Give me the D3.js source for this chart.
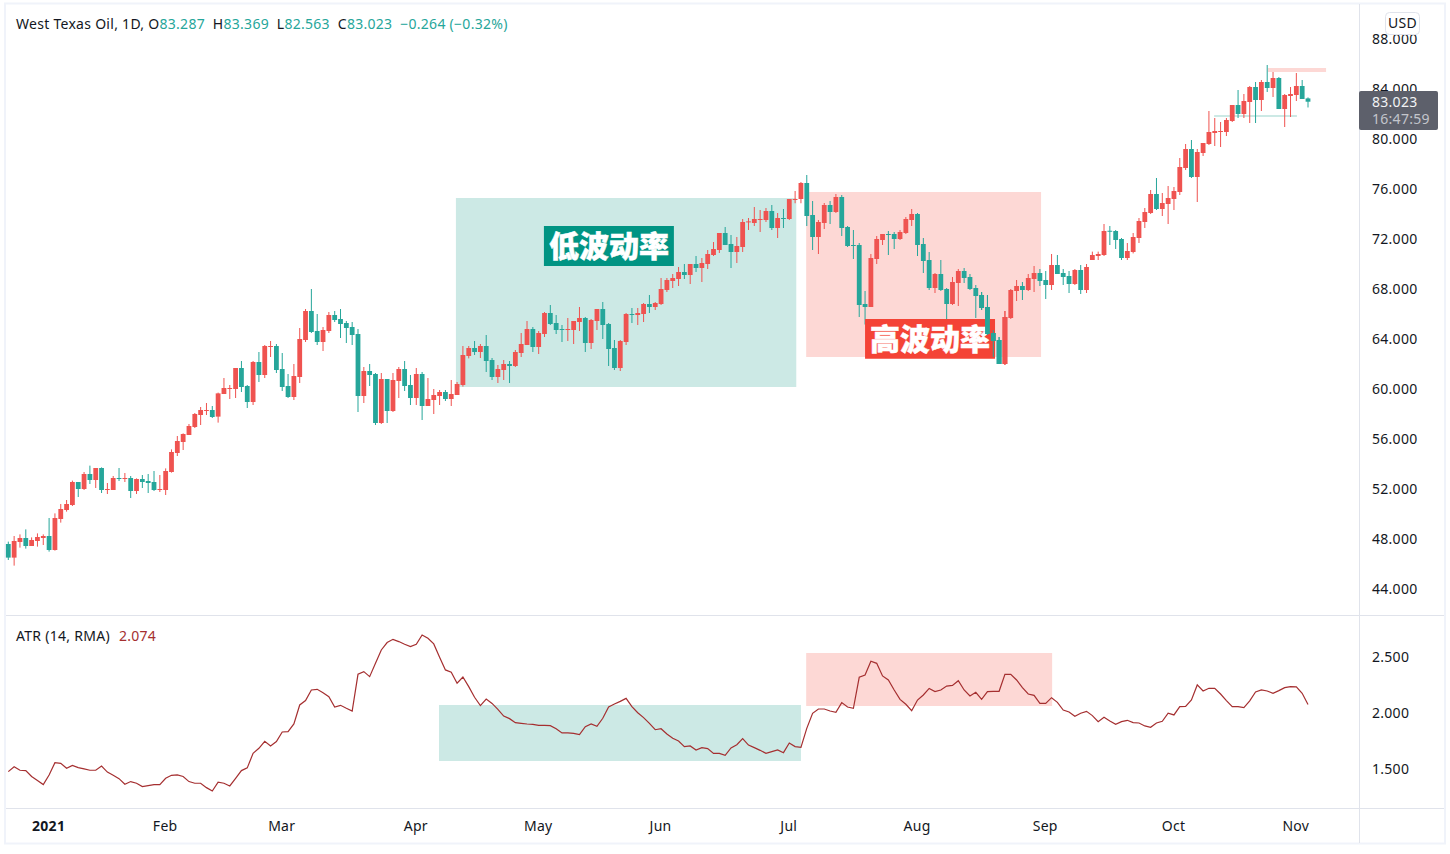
<!doctype html>
<html>
  <head>
    <title>West Texas Oil</title>
    <meta charset="utf-8">
    <style>
      body { margin: 0; background: #fff; }
      svg { display: block; }
      text { font-family: "Noto Sans", sans-serif; font-size: 14px; fill: #131722; letter-spacing: .28px; }
      .tick text { fill: #131722; }
      .cjk { font-family: "Noto Sans CJK SC"; font-weight: 900; font-size: 30px; fill: #fff; stroke: #fff; stroke-width: .5px; letter-spacing: 0; }
    </style>
  </head>
  <script src="https://cdnjs.cloudflare.com/ajax/libs/d3/7.8.5/d3.min.js"></script>
  <body>
    <svg id="target" width="1450" height="854"></svg>
    <script>

    var openPrices = [47.64,46.55,47.8,48.12,47.48,47.88,48.12,48.28,47.16,49.64,
      50.36,50.76,52.6,52.04,53.24,52.76,53.72,51.96,51.96,52.92,
      52.84,52.92,51.88,52.84,52.68,52.6,51.96,51.96,53.4,54.92,
      55.8,56.36,57,57.96,58.28,58.36,57.83,59.64,60.04,60.04,
      61.72,60.28,59,62.2,61.16,63.44,63.48,61.64,60.28,59.4,
      61,63.96,66.28,64.68,63.8,64.68,65.96,65.64,65.32,65,
      64.44,59.48,61.48,61.24,57.32,60.84,58.28,60.68,61.64,60.36,
      59.32,61.24,58.68,59.16,59.48,59.8,59.24,59.56,60.36,62.68,
      63.32,63,63.48,62.36,61,61.56,62.04,61.88,62.92,63.56,
      64.84,63.4,64.44,66.12,65.32,64.84,64.76,64.76,65.4,65.72,
      63.72,65.48,66.44,65.24,63.32,61.72,63.8,66.04,65.96,66.04,
      66.84,66.6,66.84,67.96,68.68,68.84,69.4,69.16,70.04,69.72,
      70.04,70.76,71.16,72.52,71.64,71,71.4,73.37,73.32,73.56,
      73.56,74.28,72.92,73.72,73.64,75.16,75.24,76.52,73.96,72.2,
      73.32,74.76,74.2,75.4,73,71.56,71.56,66.84,66.6,70.44,
      71.96,72.44,72.44,72.04,72.52,73.56,74.04,71.64,70.36,68.12,
      69.24,68.04,66.84,68.52,69.48,69,68.12,67.56,66.6,64.52,
      63.96,62.04,65.72,67.88,68.28,67.96,68.84,69.32,68.76,68.36,
      69.96,69.32,69.08,68.44,69.56,67.96,70.36,70.68,70.76,72.7,
      72.68,72.04,70.52,71,72.12,73.4,74.12,75.64,74.44,74.84,
      75.24,75.8,77.72,79.24,77,78.92,79.64,80.52,80.6,80.6,
      81.48,82.76,82.04,83,84.2,83.16,84.6,84.12,84.92,82.44,
      83.48,83.56,84.28,83.287];

    var closePrices = [46.55,47.88,48.12,47.48,47.96,48.2,48.28,47.16,49.72,50.44,
      50.84,52.6,52.04,53.24,52.76,53.72,51.96,52.04,52.92,52.84,
      52.92,51.88,52.84,52.6,52.52,51.96,52.04,53.48,55,55.88,
      56.44,57.08,58.04,58.36,58.36,57.8,59.69,60.12,60.12,61.72,
      60.2,59,62.2,61.16,63.48,63.48,61.56,60.2,59.4,61.08,
      64.04,66.28,64.6,63.8,64.76,65.96,65.56,65.24,64.92,64.36,
      59.48,61.48,61.16,57.32,60.84,58.28,60.76,61.64,60.28,59.32,
      61.24,58.68,59.24,59.56,59.8,59.24,59.64,60.44,62.76,63.32,
      63,63.48,62.28,61,61.64,62.04,61.88,63,63.64,64.84,
      63.4,64.52,66.12,65.24,64.76,64.76,64.84,65.48,65.72,63.72,
      65.56,66.44,65.16,63.24,61.72,63.88,66.04,65.96,66.12,66.84,
      66.6,66.92,68.04,68.76,68.92,69.4,69.16,70.04,69.72,70.12,
      70.84,71.24,72.52,71.56,71,71.48,73.4,73.45,73.64,73.64,
      74.28,72.92,73.72,73.64,75.24,75.24,76.52,73.88,72.2,73.4,
      74.76,74.2,75.4,72.92,71.48,71.48,66.76,66.6,70.52,72.04,
      72.44,72.36,72.04,72.6,73.64,74.04,71.56,70.28,68.12,69.24,
      67.96,66.84,68.6,69.48,68.92,68.04,67.48,66.52,64.44,63.88,
      62.04,65.8,67.96,68.28,67.96,68.92,69.32,68.68,68.36,69.96,
      69.24,69,68.44,69.56,67.96,69.8,70.76,70.84,72.68,72.62,
      71.96,70.52,71.08,72.2,73.48,74.2,75.64,74.44,74.92,75.32,
      75.88,77.8,79.24,77,79,79.72,80.6,80.68,80.68,81.56,
      82.76,82.04,83.08,84.2,83.16,84.6,84.12,84.92,82.44,83.56,
      83.64,84.28,83.24,83.023];

    var highPrices = [47.83,48.28,48.41,48.81,48.17,48.49,48.41,49.72,50.09,50.84,
      51.16,52.71,52.6,53.4,53.91,53.72,53.77,52.52,53.08,53.72,
      53.32,53.08,52.89,53.16,53.24,53.48,53.16,53.69,55.21,56.28,
      56.49,57.24,58.12,58.6,58.92,58.68,59.75,60.92,60.36,61.72,
      62.28,60.36,62.28,63,63.56,63.88,63.64,62.92,61.24,62.04,
      64.92,66.44,68.04,66.04,65,66.2,66.28,66.44,65.48,65.4,
      64.84,61.8,62.04,61.32,61.32,60.84,61.32,61.8,62.28,61.16,
      61.72,61.4,60.92,60.04,59.96,59.96,60.76,60.6,63.48,63.48,
      63.88,63.64,64.36,62.52,61.96,62.36,62.28,63.16,64.52,65.48,
      65,64.68,66.2,66.76,65.96,65.16,65.72,65.48,66.6,65.8,
      65.64,66.44,67,65.32,63.96,63.96,66.12,66.52,66.52,66.92,
      67.56,67,68.92,68.92,69.24,69.8,70.04,70.04,70.68,70.52,
      71.16,71.8,72.52,73,72.36,72.2,73.64,73.72,74.6,74.36,
      74.52,74.76,74.12,74.44,75.24,75.88,76.6,77.16,75.08,73.56,
      74.92,75.08,75.64,75.56,73.08,72.76,71.72,67.88,70.84,72.28,
      72.44,72.68,72.6,72.76,73.8,74.44,74.12,72.12,71,69.32,
      70.36,68.12,69,69.64,69.72,69.24,68.36,67.8,67.56,64.76,
      64.2,66.28,68.04,68.76,68.6,69.24,69.88,69.64,69.48,70.84,
      70.76,69.64,69.48,69.64,69.96,70.04,71.03,71.03,73.24,73.08,
      72.76,72.12,71.72,72.52,73.72,74.52,75.96,76.92,75.72,76.28,
      76.2,78.52,79.64,79.96,79.24,79.72,82.28,81.72,81.4,81.72,
      82.76,83.96,83.64,84.28,84.6,84.76,85.96,85.4,85,83.64,
      84.2,85.32,84.76,83.369];

    var lowPrices = [46.36,45.91,47.35,47.27,47.48,47.43,47.56,47.03,47.11,49.35,
      50.23,50.68,51.4,51.96,52.44,52.12,51.72,51.64,51.96,52.68,
      52.6,51.32,51.64,52.12,51.72,51.88,51.8,51.56,53.35,54.68,
      55.16,56.36,56.92,57.16,57.96,57.72,57.35,59.64,59.24,59.32,
      59.8,58.52,58.76,60.6,60.92,62.6,61.32,59.88,59.32,59.16,
      60.52,63.8,64.52,63.56,63.08,64.52,65.4,64.12,63.72,63.56,
      58.2,58.92,60.28,57.16,57.24,57.32,58.2,59.32,59.88,58.76,
      58.76,57.56,58.68,58.04,58.76,59.08,58.68,59.56,60.23,62.49,
      62.76,62.52,61.4,60.76,60.52,60.76,60.52,61.8,62.6,63.56,
      63,62.84,64.2,65.16,64.44,63.8,63.88,63.64,64.68,63,
      63.24,64.76,64.04,61.88,61.56,61.48,63.56,65.32,65.16,65.4,
      66.12,66.36,66.76,67.8,68.12,68.28,68.84,68.44,69.4,68.6,
      69.64,70.68,70.92,71.56,69.72,70.12,71,72.76,73.08,72.6,
      73.4,72.76,72.12,72.92,73.56,74.9,74.9,73.08,71.16,70.84,
      72.84,73.24,74.12,72.28,71.4,70.44,65.8,65.2,66.6,70.04,
      71.56,70.76,71.24,71.96,72.44,73.08,70.68,69.32,67.96,67.72,
      67.88,65.56,66.76,66.68,68.52,67.96,65.72,66.36,64.36,62.6,
      62.04,61.96,65.64,67.08,67.16,67.88,67.8,68.28,67.24,67.96,
      69.24,68.36,67.72,68.36,67.64,67.72,70.36,70.36,70.68,71.56,
      71.24,70.36,70.36,70.89,71.72,72.92,74.04,74.36,73.88,73.24,
      74.36,75.56,77.56,76.92,75,78.68,79.56,79.48,79.4,80.28,
      81.4,81.72,81.72,81.32,81.32,82.28,83.8,83.4,82.44,81,
      81.8,83.08,83.24,82.563];

    var atrValues = [1.474,1.518,1.486,1.483,1.43,1.394,1.358,1.444,1.554,1.548,
      1.504,1.53,1.51,1.498,1.486,1.486,1.524,1.47,1.441,1.411,
      1.361,1.385,1.37,1.34,1.349,1.358,1.358,1.414,1.441,1.444,
      1.43,1.385,1.37,1.37,1.331,1.301,1.379,1.37,1.346,1.414,
      1.483,1.507,1.638,1.682,1.745,1.703,1.742,1.828,1.831,1.9,
      2.069,2.108,2.203,2.209,2.179,2.143,2.051,2.066,2.039,2.015,
      2.343,2.367,2.322,2.441,2.56,2.626,2.655,2.635,2.611,2.59,
      2.611,2.694,2.664,2.614,2.495,2.382,2.361,2.263,2.319,2.233,
      2.138,2.063,2.122,2.083,2.03,1.97,1.947,1.911,1.905,1.899,
      1.896,1.887,1.887,1.884,1.857,1.819,1.819,1.816,1.804,1.875,
      1.899,1.878,1.95,2.051,2.078,2.101,2.128,2.054,2,1.956,
      1.905,1.848,1.857,1.81,1.771,1.747,1.697,1.703,1.667,1.688,
      1.679,1.637,1.637,1.619,1.685,1.714,1.768,1.711,1.688,1.664,
      1.637,1.652,1.667,1.643,1.729,1.697,1.691,1.86,1.994,2.033,
      2.033,2.015,2.003,2.09,2.051,2.039,2.316,2.336,2.459,2.441,
      2.328,2.292,2.203,2.119,2.075,2.018,2.113,2.158,2.217,2.188,
      2.203,2.238,2.244,2.286,2.203,2.149,2.182,2.119,2.188,2.191,
      2.191,2.342,2.342,2.292,2.223,2.167,2.155,2.083,2.083,2.134,
      2.092,2.024,2.006,1.968,1.995,2.012,1.974,1.92,1.959,1.926,
      1.896,1.92,1.932,1.911,1.908,1.882,1.87,1.908,1.923,1.995,
      1.98,2.054,2.057,2.114,2.248,2.194,2.218,2.218,2.167,2.108,
      2.054,2.054,2.045,2.105,2.185,2.203,2.194,2.173,2.197,2.224,
      2.233,2.23,2.173,2.074];

    var priceTicks = [44,48,52,56,60,64,68,72,76,80,84,88];
    var atrTicks = [1.5,2,2.5];
    var monthBars = [7,27,47,70,91,112,134,156,178,200,221];
    var monthLabels = ["2021","Feb","Mar","Apr","May","Jun","Jul","Aug","Sep","Oct","Nov"];

    // annotation boxes as [first bar, last bar, top value, bottom value]
    var lowVolBox = [76.8,135.2,75.32,60.2];
    var highVolBox = [136.9,177.2,75.8,62.6];
    var highStripe = [216.1,226.1,85.72,85.4];
    var lowStripe = [206.9,221.1,81.96,81.8];
    var lowVolTag = [91.9,114.2,73.08,69.88];
    var highVolTag = [147,169.3,65.64,62.46];
    var lowAtrBox = [73.9,136,2.069,1.569];
    var highAtrBox = [136.9,179.1,2.533,2.06];

    var UP = "#ef5350", DOWN = "#26a69a", GRID = "#e0e3eb", ATR = "#a52f30";
    var LOW_FILL = "#cce9e5", HIGH_FILL = "#fdd8d5";

    var svg = d3.select("svg");
    var x = d3.scaleLinear().domain([0,223]).range([8.3,1308]);
    var y = d3.scaleLinear().domain([44,88]).range([589.5,39.5]);
    var yAtr = d3.scaleLinear().domain([1.5,2.5]).range([768.7,656.7]);

    var bars = d3.range(openPrices.length).map(function(i){
      return { i:i, o:openPrices[i], h:highPrices[i], l:lowPrices[i], c:closePrices[i] };
    });

    function box(rect, yScale, color, parent) {
      return (parent || svg).append("rect")
        .attr("x", x(rect[0]))
        .attr("y", yScale(rect[2]))
        .attr("width", x(rect[1]) - x(rect[0]))
        .attr("height", yScale(rect[3]) - yScale(rect[2]))
        .attr("fill", color);
    }

    function drawCandles(data) {
      var g = svg.append("g").selectAll("g").data(data).enter().append("g")
        .attr("fill", function(d){ return d.c >= d.o ? UP : DOWN; });
      g.append("rect")
        .attr("x", function(d){ return x(d.i) - 0.5; })
        .attr("y", function(d){ return y(d.h); })
        .attr("width", 1)
        .attr("height", function(d){ return y(d.l) - y(d.h); });
      g.append("rect")
        .attr("x", function(d){ return x(d.i) - 2.4; })
        .attr("y", function(d){ return y(Math.max(d.o,d.c)); })
        .attr("width", 4.8)
        .attr("height", function(d){ return Math.max(1, Math.abs(y(d.o) - y(d.c))); });
    }

    function tag(rect, color, label) {
      box(rect, y, color);
      svg.append("text").attr("class","cjk")
        .attr("x", x((rect[0]+rect[1])/2))
        .attr("y", y((rect[2]+rect[3])/2))
        .attr("dy", "0.36em")
        .attr("text-anchor","middle")
        .text(label);
    }

    // frame
    svg.append("rect").attr("x",5).attr("y",3.5).attr("width",1440).attr("height",840)
      .attr("fill","#fff").attr("stroke","#f0f3fa").attr("stroke-width",2);
    svg.append("line").attr("x1",6).attr("x2",1444).attr("y1",615.5).attr("y2",615.5).attr("stroke",GRID);
    svg.append("line").attr("x1",6).attr("x2",1444).attr("y1",808.5).attr("y2",808.5).attr("stroke",GRID);
    svg.append("line").attr("x1",1359.5).attr("x2",1359.5).attr("y1",4).attr("y2",843).attr("stroke",GRID);

    // boxes under the candles
    box(lowVolBox, y, LOW_FILL);
    box(highVolBox, y, HIGH_FILL);
    box(highStripe, y, HIGH_FILL);
    box(lowStripe, y, LOW_FILL);
    box(lowAtrBox, yAtr, LOW_FILL);
    box(highAtrBox, yAtr, HIGH_FILL);

    drawCandles(bars);
    tag(lowVolTag, "#009483", "低波动率");
    tag(highVolTag, "#f44336", "高波动率");
    // the last falling bars sit on top of the red tag
    drawCandles(bars.filter(function(d){ return d.i >= 167 && d.i <= 171; }));

    var atrLine = d3.line()
      .x(function(d,i){ return x(i); })
      .y(function(d){ return yAtr(d); });
    svg.append("path").datum(atrValues)
      .attr("d", atrLine)
      .attr("fill","none")
      .attr("stroke",ATR)
      .attr("stroke-width",1.2);

    // axes
    var priceAxis = d3.axisRight(y).tickValues(priceTicks).tickFormat(d3.format(".3f")).tickSize(0).tickPadding(0);
    var pa = svg.append("g").attr("transform","translate(1372,0)").call(priceAxis);
    var atrAxis = d3.axisRight(yAtr).tickValues(atrTicks).tickFormat(d3.format(".3f")).tickSize(0).tickPadding(0);
    var aa = svg.append("g").attr("transform","translate(1372,0)").call(atrAxis);
    var timeAxis = d3.axisBottom(x).tickValues(monthBars)
      .tickFormat(function(d,i){ return monthLabels[i]; }).tickSize(0).tickPadding(0);
    var ta = svg.append("g").attr("transform","translate(-1,821)").call(timeAxis);
    [pa,aa,ta].forEach(function(a){
      a.select(".domain").remove();
      a.attr("font-family",null).attr("font-size",null);
    });
    ta.selectAll("text").filter(function(d,i){ return i == 0; }).style("font-weight","bold");

    // last price label
    svg.append("rect").attr("x",1359).attr("y",91).attr("width",79).attr("height",39).attr("rx",2).attr("fill","#5d606b");
    svg.append("text").attr("x",1372).attr("y",107).style("fill","#f2f3f5").text(d3.format(".3f")(closePrices[223]));
    svg.append("text").attr("x",1372).attr("y",124).style("fill","#c3c5cb").text("16:47:59");

    // currency badge
    svg.append("rect").attr("x",1385.5).attr("y",12.5).attr("width",34).attr("height",22).attr("rx",4)
      .attr("fill","#fff").attr("stroke",GRID);
    svg.append("text").attr("x",1402.5).attr("y",28).attr("text-anchor","middle").text("USD");

    // legends
    var head = svg.append("text").attr("x",16).attr("y",29);
    var parts = [["West Texas Oil, 1D, O",0],["83.287",1],["  H",0],["83.369",1],["  L",0],["82.563",1],["  C",0],["83.023",1],["  −0.264 (−0.32%)",1]];
    parts.forEach(function(p){
      head.append("tspan").attr("xml:space","preserve").style("white-space","pre")
        .style("fill", p[1] ? "#26a69a" : "#131722").text(p[0]);
    });
    var sub = svg.append("text").attr("x",16).attr("y",641);
    sub.append("tspan").text("ATR (14, RMA)");
    sub.append("tspan").attr("dx",9).style("fill",ATR).text(d3.format(".3f")(atrValues[223]));

  </script>
  </body>
</html>
